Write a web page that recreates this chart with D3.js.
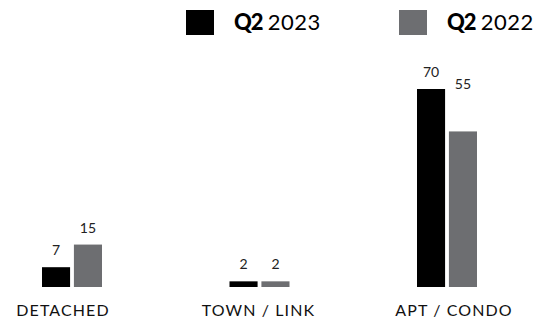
<!DOCTYPE html>
<html>
<head>
<meta charset="utf-8">
<script src="https://cdn.jsdelivr.net/npm/d3@7/dist/d3.min.js"></script>
<style>
  html, body { margin: 0; padding: 0; background: #fff; }
  svg { display: block; font-family: Lato, "Noto Sans", sans-serif; }
</style>
</head>
<body>
<svg id="chart" width="555" height="320"></svg>
<script>
// Sales by property type, Q2 2023 vs Q2 2022
const categories = ["DETACHED", "TOWN / LINK", "APT / CONDO"];
const seriesNames = ["2023", "2022"];
const values2023 = [7, 2, 70];
const values2022 = [15, 2, 55];
const colors = ["#000000", "#6d6e71"];

const series = [values2023, values2022];
const svg = d3.select("#chart");

const baseline = 287;
const y = d3.scaleLinear().domain([0, 70]).range([baseline, 89]);

// group centres for bars and for the category captions
const xBar = d3.scalePoint().domain(categories).range([72, 447]);
const xCap = d3.scalePoint().domain(categories).range([63, 454]);
const inner = d3.scaleBand().domain(seriesNames).range([-30, 30]).paddingInner(0.12);

const groups = svg.selectAll("g.cat")
  .data(categories)
  .join("g")
  .attr("class", "cat")
  .attr("transform", d => `translate(${xBar(d)},0)`);

groups.each(function (cat, ci) {
  const g = d3.select(this);
  seriesNames.forEach((s, si) => {
    const v = series[si][ci];
    g.append("rect")
      .attr("x", inner(s))
      .attr("y", y(v))
      .attr("width", inner.bandwidth())
      .attr("height", baseline - y(v))
      .attr("fill", colors[si]);

    // 2022 labels never sit below the top of the 2023 bar next to them
    let ly = y(v) - 12;
    if (si === 1) ly = Math.min(ly, y(series[0][ci]));
    g.append("text")
      .attr("x", inner(s) + inner.bandwidth() / 2)
      .attr("y", ly)
      .attr("text-anchor", "middle")
      .attr("font-size", 14)
      .attr("fill", "#222")
      .text(v);
  });
});

svg.selectAll("text.cap")
  .data(categories)
  .join("text")
  .attr("class", "cap")
  .attr("x", d => xCap(d))
  .attr("y", 316)
  .attr("text-anchor", "middle")
  .attr("font-size", 16)
  .attr("letter-spacing", 1.1)
  .attr("fill", "#111")
  .text(d => d);

// legend
const legendX = [186, 399];
const legend = svg.selectAll("g.leg")
  .data(seriesNames)
  .join("g")
  .attr("class", "leg")
  .attr("transform", (d, i) => `translate(${legendX[i]},10)`);

legend.append("rect")
  .attr("width", 28)
  .attr("height", 25)
  .attr("fill", (d, i) => colors[i]);

const lt = legend.append("text")
  .attr("x", 48)
  .attr("y", 19.5)
  .attr("font-size", 22)
  .attr("fill", "#000");
lt.append("tspan").attr("font-weight", 900).attr("letter-spacing", -1).text("Q2");
lt.append("tspan").attr("dx", 5).attr("font-weight", 400).attr("letter-spacing", 0.5).text(d => d);
</script>
</body>
</html>
